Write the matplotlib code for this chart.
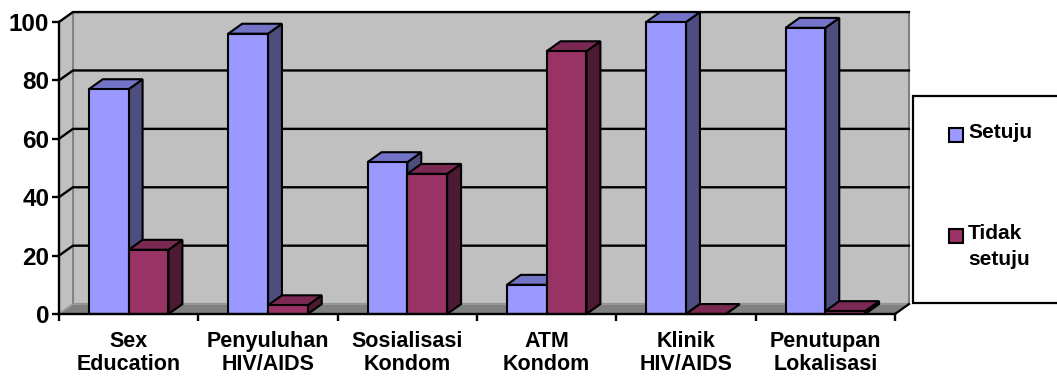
import numpy as np
import matplotlib
matplotlib.use("Agg")
import matplotlib.pyplot as plt
from matplotlib.patches import Polygon, Rectangle

plt.rcParams['font.family'] = ['Liberation Sans', 'DejaVu Sans']
plt.rcParams['font.weight'] = 'bold'

# data
categories = ["Sex\nEducation", "Penyuluhan\nHIV/AIDS", "Sosialisasi\nKondom",
              "ATM\nKondom", "Klinik\nHIV/AIDS", "Penutupan\nLokalisasi"]
setuju = [77, 96, 52, 10, 100, 98]
tidak_setuju = [22, 3, 48, 90, 0, 1]
series_names = ["Setuju", "Tidak\nsetuju"]
yticks = [0, 20, 40, 60, 80, 100]

# colours (front, top, side)
c_setuju = ("#9999FF", "#7373C8", "#4D4D80")
c_tidak = ("#993366", "#7A2952", "#4D1A33")
wall = "#C0C0C0"
floor = "#808080"

W, H = 1057, 378
fig = plt.figure(figsize=(W / 100, H / 100), dpi=100)
ax = fig.add_axes([59 / W, 64 / H, 836 / W, 292 / H])
ax.set_xlim(-0.5, 5.5)
ax.set_ylim(0, 100)
ax.set_facecolor("none")

# depth of the 3d look in data units
dx, dy = 0.1, 3.4
x0, x1 = -0.5, 5.5

# back wall, side wall, floor
ax.add_patch(Polygon([(x0 + dx, dy), (x1 + dx, dy), (x1 + dx, 100 + dy), (x0 + dx, 100 + dy)],
                     closed=True, fc=wall, ec="#808080", lw=1.5, zorder=0, clip_on=False))
ax.add_patch(Polygon([(x0, 0), (x0 + dx, dy), (x0 + dx, 100 + dy), (x0, 100)],
                     closed=True, fc=wall, ec="#808080", lw=1.2, zorder=0, clip_on=False))
for v in yticks[1:]:
    ax.plot([x0, x0 + dx, x1 + dx], [v, v + dy, v + dy], color="black", lw=1.7,
            zorder=1, clip_on=False)
ax.add_patch(Polygon([(x0, 0), (x1, 0), (x1 + dx, dy), (x0 + dx, dy)],
                     closed=True, fc=floor, ec="#A0A0A0", lw=1, zorder=2, clip_on=False))
ax.plot([x1, x1 + dx], [0, dy], color="black", lw=1.6, zorder=2, clip_on=False)

# bars
n = len(categories)
bw = 1 / 3.5
xs = np.arange(n)
for i in range(n):
    for j, (vals, cols) in enumerate([(setuju, c_setuju), (tidak_setuju, c_tidak)]):
        left = xs[i] - bw + j * bw
        v = vals[i]
        z = 3 + i * 2 + j
        ax.add_patch(Polygon([(left + bw, 0), (left + bw + dx, dy), (left + bw + dx, v + dy), (left + bw, v)],
                             closed=True, fc=cols[2], ec="black", lw=1.5, zorder=z, clip_on=False))
        ax.add_patch(Polygon([(left, v), (left + bw, v), (left + bw + dx, v + dy), (left + dx, v + dy)],
                             closed=True, fc=cols[1], ec="black", lw=1.5, zorder=z, clip_on=False))
        ax.bar(left, v, bw, align="edge", color=cols[0], edgecolor="black", lw=1.5, zorder=z,
               clip_on=False)

# axes
for s in ["top", "right"]:
    ax.spines[s].set_visible(False)
for s in ["left", "bottom"]:
    ax.spines[s].set_linewidth(1.7)
    ax.spines[s].set_zorder(20)
ax.set_yticks(yticks)
ax.set_yticklabels([str(v) for v in yticks], fontsize=17.5, fontweight="bold")
ax.tick_params(axis="y", length=5, width=1.7, pad=2)
ax.set_xticks(np.arange(-0.5, 6, 1))
ax.set_xticklabels([])
ax.tick_params(axis="x", which="major", length=5, width=1.7)
ax.set_xticks(xs, minor=True)
ax.set_xticklabels(categories, minor=True, fontsize=15.5, fontweight="bold", linespacing=1.15)
ax.tick_params(axis="x", which="minor", length=0, pad=12)

# legend box
fig.patches.append(Rectangle((913 / W, 1 - 303 / H), 160 / W, 207 / H, transform=fig.transFigure,
                             fc="white", ec="black", lw=1.6, zorder=5))
legend_cols = [c_setuju[0], c_tidak[0]]
legend_y = [135, 236]
for name, col, y in zip(series_names, legend_cols, legend_y):
    fig.patches.append(Rectangle((949 / W, 1 - (y + 7) / H), 14 / W, 14 / H, transform=fig.transFigure,
                                 fc=col, ec="black", lw=1.5, zorder=6))
    fig.text(968 / W, 1 - (y - 12) / H, name, fontsize=15, fontweight="bold", va="top", ha="left",
             linespacing=1.45, zorder=7)

fig.savefig("out.png", dpi=100)
